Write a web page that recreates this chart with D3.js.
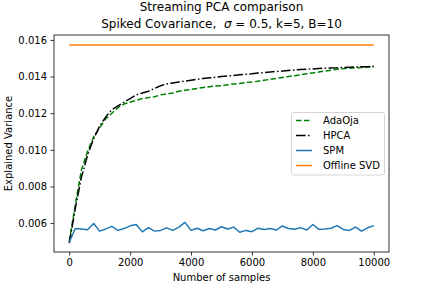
<!DOCTYPE html>
<html>
<head>
<meta charset="utf-8">
<script src="https://cdn.jsdelivr.net/npm/d3@7"></script>
<style>
html,body{margin:0;padding:0;background:#fff;}
svg{display:block;font-family:"DejaVu Sans",sans-serif;}
</style>
</head>
<body>
<svg id="chart" width="432" height="288"></svg>
<script>
const samples = d3.range(0, 10001, 200);
const adaOja = [0.0050,0.0070,0.0089,0.0099,0.0107,0.0112,0.0117,0.0120,0.0123,0.0125,
  0.0126,0.0127,0.0128,0.01285,0.0129,0.0130,0.01305,0.0131,0.0132,0.01325,
  0.0133,0.01335,0.0134,0.01345,0.01348,0.0135,0.01355,0.0136,0.01362,0.01368,
  0.0137,0.01375,0.0138,0.01385,0.0139,0.01395,0.0140,0.01405,0.0141,0.01415,
  0.0142,0.01425,0.0143,0.01435,0.0144,0.01443,0.01446,0.01448,0.0145,0.01452,0.01455];
const hpca = [0.0049,0.0068,0.0085,0.0097,0.0106,0.0113,0.0118,0.0122,0.0124,0.0126,
  0.0128,0.0130,0.0131,0.0132,0.01335,0.0135,0.0136,0.01365,0.0137,0.01375,
  0.0138,0.01385,0.0139,0.01393,0.01396,0.0140,0.01403,0.01406,0.0141,0.01413,
  0.01416,0.0142,0.01422,0.01425,0.01428,0.0143,0.01433,0.01436,0.01438,0.0144,
  0.01442,0.01444,0.01446,0.01447,0.01448,0.0145,0.01451,0.01452,0.01453,0.01454,0.01455];
const spm = [0.00495,0.00570,0.00568,0.00563,0.00598,0.00556,0.00568,0.00582,0.00560,0.00570,
  0.00585,0.00592,0.00552,0.00575,0.00556,0.00560,0.00574,0.00560,0.00578,0.00604,
  0.00560,0.00572,0.00558,0.00570,0.00562,0.00580,0.00568,0.00578,0.00550,0.00560,
  0.00553,0.00572,0.00565,0.00570,0.00562,0.00584,0.00570,0.00566,0.00575,0.00562,
  0.00592,0.00566,0.00568,0.00572,0.00586,0.00565,0.00560,0.00578,0.00556,0.00574,0.00586];
const offlineSvd = samples.map(() => 0.01572);
const xTicks = [0, 2000, 4000, 6000, 8000, 10000];
const yTicks = [0.006, 0.008, 0.010, 0.012, 0.014, 0.016];
const seriesNames = ["AdaOja", "HPCA", "SPM", "Offline SVD"];

const svg = d3.select("#chart");
const L = 54, R = 389, T = 35, B = 252;
const x = d3.scaleLinear().domain([-500, 10500]).range([L, R]);
const y = d3.scaleLinear().domain([0.00442, 0.01627]).range([B, T]);

const series = [
  {name: seriesNames[0], vals: adaOja, color: "#008000", dash: "5.55,2.4"},
  {name: seriesNames[1], vals: hpca, color: "#000000", dash: "9.6,2.4,1.5,2.4"},
  {name: seriesNames[2], vals: spm, color: "#1f77b4", dash: null},
  {name: seriesNames[3], vals: offlineSvd, color: "#ff7f0e", dash: null}
];

const line = d3.line().x(d => x(d[0])).y(d => y(d[1]));
const g = svg.append("g");
series.forEach(s => {
  g.append("path")
    .datum(samples.map((n, i) => [n, s.vals[i]]))
    .attr("d", line)
    .attr("fill", "none")
    .attr("stroke", s.color)
    .attr("stroke-width", 1.5)
    .attr("stroke-dasharray", s.dash)
    .attr("stroke-linejoin", "round");
});

// axes
const xAxis = d3.axisBottom(x).tickValues(xTicks).tickFormat(d3.format("d")).tickSize(3.5).tickPadding(3.5);
const yAxis = d3.axisLeft(y).tickValues(yTicks).tickFormat(d3.format(".3f")).tickSize(3.5).tickPadding(3.5);
const gx = svg.append("g").attr("transform", `translate(0,${B})`).call(xAxis);
const gy = svg.append("g").attr("transform", `translate(${L},0)`).call(yAxis);
[gx, gy].forEach(a => {
  a.select(".domain").remove();
  a.selectAll("text").attr("font-size", 10).attr("font-family", "DejaVu Sans").attr("fill", "#000");
  a.selectAll("line").attr("stroke", "#000").attr("stroke-width", 0.8);
});
svg.append("rect").attr("x", L).attr("y", T).attr("width", R - L).attr("height", B - T)
  .attr("fill", "none").attr("stroke", "#000").attr("stroke-width", 0.8);

// labels
svg.append("text").attr("x", (L + R) / 2).attr("y", 281).attr("text-anchor", "middle")
  .attr("font-size", 10).text("Number of samples");
svg.append("text").attr("transform", `translate(12,${(T + B) / 2}) rotate(-90)`).attr("text-anchor", "middle")
  .attr("font-size", 10).text("Explained Variance");

// title
svg.append("text").attr("x", (L + R) / 2).attr("y", 10.5).attr("text-anchor", "middle")
  .attr("font-size", 12).text("Streaming PCA comparison");
const t2 = svg.append("text").attr("x", (L + R) / 2).attr("y", 27.5).attr("text-anchor", "middle")
  .attr("font-size", 12).attr("xml:space", "preserve");
t2.append("tspan").text("Spiked Covariance,  ");
t2.append("tspan").attr("font-style", "italic").text("σ");
t2.append("tspan").text(" = 0.5, k=5, B=10");

// legend
const lg = svg.append("g");
lg.append("rect").attr("x", 291.5).attr("y", 112.5).attr("width", 93).attr("height", 62.5)
  .attr("rx", 2).attr("fill", "#fff").attr("fill-opacity", 0.8).attr("stroke", "#ccc").attr("stroke-width", 0.8);
series.forEach((s, i) => {
  const yy = 120.5 + i * 15;
  lg.append("line").attr("x1", 296).attr("x2", 312).attr("y1", yy).attr("y2", yy)
    .attr("stroke", s.color).attr("stroke-width", 1.5).attr("stroke-dasharray", s.dash);
  lg.append("text").attr("x", 323).attr("y", yy + 3.5).attr("font-size", 10).text(s.name);
});
</script>
</body>
</html>
